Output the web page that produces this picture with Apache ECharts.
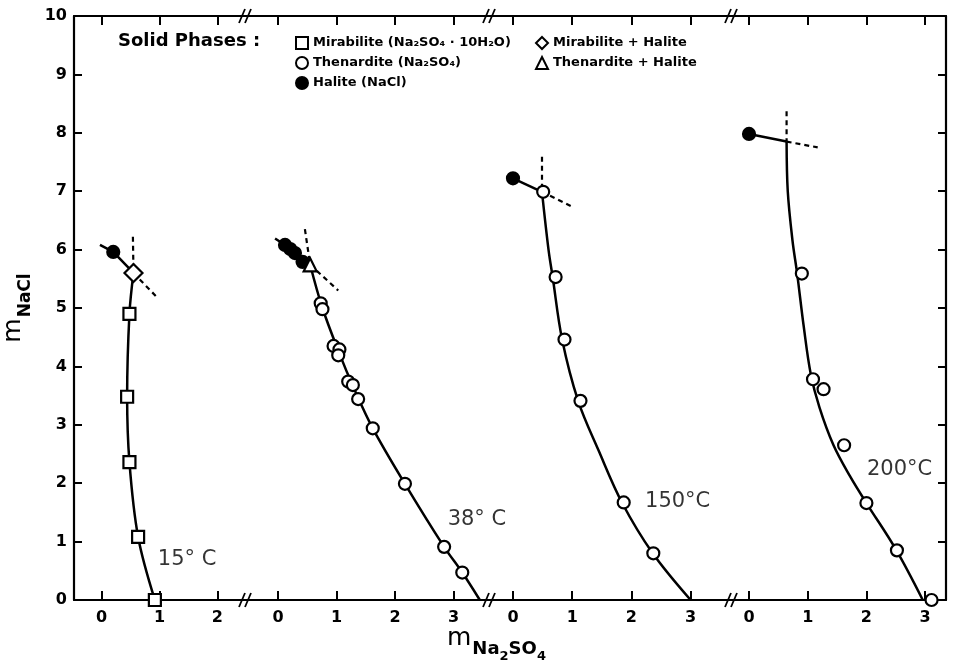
<!DOCTYPE html>
<html><head><meta charset="utf-8">
<script src="https://cdn.jsdelivr.net/npm/echarts@6/dist/echarts.min.js"></script>
<style>html,body{margin:0;padding:0;background:#fff}#c{width:953px;height:670px}</style>
</head><body><div id="c"></div>
<script>
// ---------------- DATA ----------------
const yTicks = [0,1,2,3,4,5,6,7,8,9,10];
const xTicks15 = [0,1,2];
const xTicks38 = [0,1,2,3];
const xTicks150 = [0,1,2,3];
const xTicks200 = [0,1,2,3];

// 15 °C
const mir15 = [[0.92,0],[0.63,1.08],[0.48,2.36],[0.44,3.48],[0.48,4.9]];
const mirHal15 = [[0.55,5.6]];
const hal15 = [[0.2,5.96]];
const curve15 = [[0.92,0],[0.63,1.08],[0.48,2.36],[0.44,3.48],[0.48,4.9],[0.55,5.6]];
const branch15 = [[0.55,5.6],[0.2,5.96],[-0.03,6.08]];
const dashV15 = [[0.54,6.22],[0.55,5.6]];
const dashD15 = [[0.55,5.6],[0.97,5.17]];

// 38 °C
const the38 = [[0.73,5.08],[0.76,4.98],[0.95,4.35],[1.05,4.29],[1.03,4.19],[1.2,3.74],[1.28,3.68],[1.37,3.44],[1.62,2.94],[2.17,1.99],[2.84,0.91],[3.15,0.47]];
const theHal38 = [[0.55,5.74]];
const hal38 = [[0.12,6.08],[0.21,6.01],[0.29,5.94],[0.42,5.79]];
const curve38 = [[0.55,5.74],[0.75,5.03],[1.03,4.27],[1.3,3.62],[1.62,2.94],[2.17,1.99],[2.84,0.91],[3.15,0.47],[3.45,0]];
const branch38 = [[0.55,5.74],[0.12,6.08],[-0.05,6.19]];
const dashV38 = [[0.46,6.35],[0.55,5.74]];
const dashD38 = [[0.55,5.74],[1.03,5.3]];

// 150 °C
const the150 = [[0.51,6.99],[0.72,5.53],[0.87,4.46],[1.14,3.41],[1.87,1.67],[2.37,0.8]];
const hal150 = [[0,7.22]];
const curve150 = [[0.49,6.99],[0.6,6.0],[0.67,5.53],[0.83,4.46],[1.1,3.41],[1.45,2.55],[1.84,1.67],[2.36,0.8],[3.0,0]];
const branch150 = [[0,7.22],[0.49,6.99]];
const dashV150 = [[0.49,7.59],[0.49,6.99]];
const dashD150 = [[0.49,6.99],[1.03,6.72]];

// 200 °C
const the200 = [[0.9,5.59],[1.09,3.78],[1.27,3.61],[1.62,2.65],[2.0,1.66],[2.52,0.85],[3.11,0]];
const hal200 = [[0,7.98]];
const curve200 = [[0.64,7.85],[0.66,7.0],[0.74,6.16],[0.82,5.59],[0.93,4.7],[1.05,3.88],[1.2,3.3],[1.44,2.65],[1.72,2.12],[2.0,1.66],[2.5,0.87],[2.96,0]];
const branch200 = [[0,7.98],[0.64,7.85]];
const dashV200 = [[0.64,8.37],[0.64,7.85]];
const dashD200 = [[0.64,7.85],[1.17,7.75]];

// temperature labels (left-middle anchor)
const tempLabels = ['15° C','38° C','150°C','200°C'];
const tempLabelPos = [[0.97,0.70],[2.9,1.37],[2.23,1.68],[2.01,2.23]];

const N_MIR = 'Mirabilite (Na₂SO₄ · 10H₂O)';
const N_THE = 'Thenardite (Na₂SO₄)';
const N_HAL = 'Halite (NaCl)';
const N_MH = 'Mirabilite + Halite';
const N_TH = 'Thenardite + Halite';

// ---------------- LAYOUT ----------------
const FONT = 'DejaVu Sans';
const TOP = 16, HEIGHT = 584;
const gridLeft = [72,245,489,731];
const gridWidth = [173,244,242,215];
const xMin = [-0.479,-0.564,-0.405,-0.307];
const xMax = [2.479,3.607,3.682,3.356];

const panels = [
  {ticks:xTicks15, curve:curve15, branch:branch15, dashV:dashV15, dashD:dashD15, pts:[[N_MIR,mir15],[N_HAL,hal15],[N_MH,mirHal15]]},
  {ticks:xTicks38, curve:curve38, branch:branch38, dashV:dashV38, dashD:dashD38, pts:[[N_THE,the38],[N_HAL,hal38],[N_TH,theHal38]]},
  {ticks:xTicks150, curve:curve150, branch:branch150, dashV:dashV150, dashD:dashD150, pts:[[N_THE,the150],[N_HAL,hal150]]},
  {ticks:xTicks200, curve:curve200, branch:branch200, dashV:dashV200, dashD:dashD200, pts:[[N_THE,the200],[N_HAL,hal200]]}
];

const phaseStyle = {};
phaseStyle[N_MIR] = {symbol:'rect', size:12, fill:'#fff'};
phaseStyle[N_THE] = {symbol:'circle', size:12, fill:'#fff'};
phaseStyle[N_HAL] = {symbol:'circle', size:12, fill:'#000'};
phaseStyle[N_MH] = {symbol:'diamond', size:18, fill:'#fff'};
phaseStyle[N_TH] = {symbol:'triangle', size:13, fill:'#fff'};

const grids = [], xAxes = [], yAxes = [], series = [];
const axisLine = {show:true, onZero:false, lineStyle:{color:'#000', width:2.2}};
panels.forEach((p, i) => {
  grids.push({left:gridLeft[i], top:TOP, width:gridWidth[i], height:HEIGHT});
  xAxes.push({type:'value', gridIndex:i, position:'bottom', min:xMin[i], max:xMax[i],
    axisLine:axisLine, splitLine:{show:false},
    axisTick:{show:true, inside:true, length:9, lineStyle:{color:'#000', width:2}, customValues:p.ticks},
    axisLabel:{show:true, margin:10, customValues:p.ticks, color:'#000', fontFamily:FONT, fontWeight:'bold', fontSize:16}
  });
  xAxes.push({type:'value', gridIndex:i, position:'top', min:xMin[i], max:xMax[i],
    axisLine:axisLine, splitLine:{show:false},
    axisTick:{show:true, inside:true, length:9, lineStyle:{color:'#000', width:2}, customValues:p.ticks},
    axisLabel:{show:false}
  });
  const yShow = (i === 0 || i === 3);
  yAxes.push({type:'value', gridIndex:i, min:0, max:10, interval:1, position: i === 3 ? 'right' : 'left',
    show: yShow,
    axisLine:axisLine, splitLine:{show:false},
    axisTick:{show:true, inside:true, length:8, lineStyle:{color:'#000', width:2}},
    axisLabel:{show:i === 0, margin:7, color:'#000', fontFamily:FONT, fontWeight:'bold', fontSize:16},
    name: i === 0 ? '{m|m}{s|NaCl}' : '',
    nameLocation:'middle', nameRotate:90, nameGap:40,
    nameTextStyle:{rich:{
      m:{fontSize:25, fontFamily:FONT, color:'#000', verticalAlign:'bottom', padding:[0,1,8,0]},
      s:{fontSize:17, fontFamily:FONT, fontWeight:'bold', color:'#000', verticalAlign:'bottom'}
    }}
  });
  const xi = i*2, yi = i;
  const lineBase = {type:'line', xAxisIndex:xi, yAxisIndex:yi, showSymbol:false, symbol:'none', silent:true, z:2, animation:false};
  series.push(Object.assign({}, lineBase, {name:'curve'+i, data:p.curve, smooth:0.35, lineStyle:{color:'#000', width:2.5}}));
  series.push(Object.assign({}, lineBase, {name:'branch'+i, data:p.branch, lineStyle:{color:'#000', width:2.5}}));
  series.push(Object.assign({}, lineBase, {name:'dv'+i, data:p.dashV, lineStyle:{color:'#000', width:2.2, type:[5,4]}}));
  series.push(Object.assign({}, lineBase, {name:'dd'+i, data:p.dashD, lineStyle:{color:'#000', width:2.2, type:[5,4]}}));
  p.pts.forEach(([name, data]) => {
    const st = phaseStyle[name];
    series.push({type:'scatter', name:name, xAxisIndex:xi, yAxisIndex:yi, data:data, symbol:st.symbol, symbolSize:st.size,
      itemStyle:{color:st.fill, borderColor:'#000', borderWidth:2.2, opacity:1}, z:4, silent:true, animation:false});
  });
  series.push({type:'scatter', name:'tl'+i, xAxisIndex:xi, yAxisIndex:yi, data:[tempLabelPos[i]], symbolSize:0, silent:true, animation:false,
    label:{show:true, position:'right', distance:0, formatter:tempLabels[i], color:'#000', fontFamily:FONT, fontSize:21}});
});

const legendText = {fontFamily:FONT, fontWeight:'bold', fontSize:13, color:'#000'};
const option = {
  backgroundColor:'#fff',
  animation:false,
  title:{text:'Solid Phases :', left:118, top:32, padding:0, textStyle:{fontFamily:FONT, fontWeight:'bold', fontSize:18, color:'#000'}},
  legend:[
    {data:[N_MIR,N_THE,N_HAL], left:295, top:36, orient:'vertical', itemWidth:12, itemHeight:12, itemGap:6, selectedMode:false, padding:0, textStyle:legendText},
    {data:[N_MH,N_TH], left:535, top:36, orient:'vertical', itemWidth:12, itemHeight:12, itemGap:6, selectedMode:false, padding:0, textStyle:legendText}
  ],
  grid:grids, xAxis:xAxes, yAxis:yAxes, series:series
};

// axis-break marks at panel joins (top and bottom)
const graphics = [];
for (let i = 1; i < 4; i++) {
  [TOP, TOP+HEIGHT].forEach(y => {
    const x = gridLeft[i];
    graphics.push({type:'group', x:x, y:y, z:100, children:[
      {type:'line', shape:{x1:-6, y1:7, x2:0, y2:-7}, style:{stroke:'#000', lineWidth:1.8}},
      {type:'line', shape:{x1:0, y1:7, x2:6, y2:-7}, style:{stroke:'#000', lineWidth:1.8}}
    ]});
  });
}
graphics.push({type:'text', left:447, top:626, z:100, style:{
  text:'{m|m}{s|Na}{ss|2}{s|SO}{ss|4}',
  rich:{
    m:{fontSize:25, fontFamily:FONT, fill:'#000', verticalAlign:'bottom', padding:[0,1,12,0]},
    s:{fontSize:18, fontFamily:FONT, fontWeight:'bold', fill:'#000', verticalAlign:'bottom', padding:[0,0,5,0]},
    ss:{fontSize:13, fontFamily:FONT, fontWeight:'bold', fill:'#000', verticalAlign:'bottom'}
  }}});
option.graphic = graphics;

const chart = echarts.init(document.getElementById('c'));
chart.setOption(option);
</script></body></html>
